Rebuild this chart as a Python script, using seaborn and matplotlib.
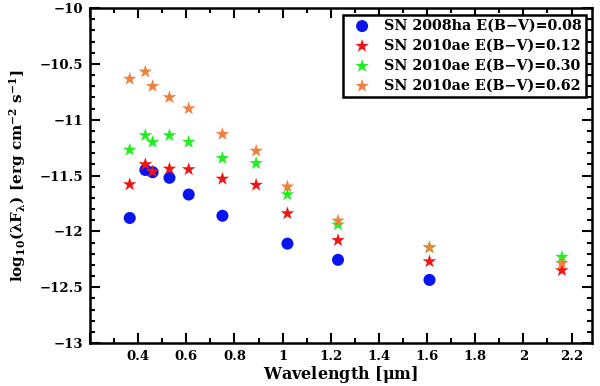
import numpy as np
import pandas as pd
import seaborn as sns
import matplotlib.pyplot as plt
from matplotlib.ticker import MultipleLocator, FuncFormatter

# wavelengths in micron (U B g V R I ... J H K)
wave_08ha = [0.365, 0.43, 0.46, 0.53, 0.61, 0.75, 1.02, 1.23, 1.61]
flux_08ha = [-11.88, -11.45, -11.47, -11.52, -11.67, -11.86, -12.11, -12.255, -12.435]

wave_10ae = [0.365, 0.43, 0.46, 0.53, 0.61, 0.75, 0.89, 1.02, 1.23, 1.61, 2.16]
flux_10ae_012 = [-11.58, -11.40, -11.465, -11.44, -11.445, -11.53, -11.585, -11.84, -12.08, -12.27, -12.35]
flux_10ae_030 = [-11.27, -11.14, -11.20, -11.14, -11.20, -11.345, -11.39, -11.67, -11.94, -12.145, -12.23]
flux_10ae_062 = [-10.635, -10.57, -10.70, -10.80, -10.90, -11.13, -11.28, -11.60, -11.905, -12.145, -12.285]

labels = ["SN 2008ha E(B\u2212V)=0.08", "SN 2010ae E(B\u2212V)=0.12",
          "SN 2010ae E(B\u2212V)=0.30", "SN 2010ae E(B\u2212V)=0.62"]
colors = ["#0a14f0", "#f01414", "#1ef01e", "#f08040"]
markers = ["o", "*", "*", "*"]

frames = [pd.DataFrame({"wave": wave_08ha, "flux": flux_08ha, "series": labels[0]})]
for lab, fl in zip(labels[1:], [flux_10ae_012, flux_10ae_030, flux_10ae_062]):
    frames.append(pd.DataFrame({"wave": wave_10ae, "flux": fl, "series": lab}))
df = pd.concat(frames, ignore_index=True)

sns.set_style("ticks")
plt.rcParams["font.family"] = ["DejaVu Serif"]
plt.rcParams["font.weight"] = "bold"
plt.rcParams["mathtext.fontset"] = "dejavuserif"
plt.rcParams["mathtext.default"] = "bf"
plt.rcParams["text.color"] = "black"
plt.rcParams["axes.labelcolor"] = "black"
plt.rcParams["xtick.color"] = "black"
plt.rcParams["ytick.color"] = "black"
plt.rcParams["axes.edgecolor"] = "black"

fig = plt.figure(figsize=(6, 3.86), dpi=100)
ax = fig.add_axes([0.15, 0.1114, 0.8367, 0.8676])

for lab, col, mk in zip(labels, colors, markers):
    sub = df[df["series"] == lab]
    sns.scatterplot(data=sub, x="wave", y="flux", color=col, marker=mk,
                    s=75 if mk == "o" else 105, edgecolor="none", linewidth=0,
                    label=lab, ax=ax, zorder=3 if mk == "o" else 4)

ax.set_xlim(0.2, 2.285)
ax.set_ylim(-13, -10)
ax.xaxis.set_major_locator(MultipleLocator(0.2))
ax.xaxis.set_minor_locator(MultipleLocator(0.1))
ax.yaxis.set_major_locator(MultipleLocator(0.5))
ax.yaxis.set_minor_locator(MultipleLocator(0.1))
xfmt = FuncFormatter(lambda v, p: "" if abs(v - 0.2) < 1e-6 else "%g" % round(v, 3))
yfmt = FuncFormatter(lambda v, p: ("%g" % round(v, 3)).replace("-", "\u2212"))
ax.xaxis.set_major_formatter(xfmt)
ax.yaxis.set_major_formatter(yfmt)
ax.tick_params(which="both", direction="in", top=True, right=True, width=1.5, labelsize=9.5)
ax.tick_params(which="major", length=7, pad=5)
ax.tick_params(which="minor", length=3.5)
for sp in ax.spines.values():
    sp.set_linewidth(1.8)

ax.set_xlabel("Wavelength [$\\mathbf{\\mu}$m]", fontsize=11.5, fontweight="bold", labelpad=1)
ax.set_ylabel("log$_{10}$($\\lambda$F$_\\lambda$) [erg cm$^{-2}$ s$^{-1}$]",
              fontsize=11, fontweight="bold", labelpad=8)

leg = ax.legend(loc="upper right", fontsize=10.3, frameon=True, fancybox=False,
                handletextpad=0.5, borderpad=0.3, labelspacing=0.42,
                borderaxespad=0.45, markerscale=1.0, framealpha=1)
leg.get_frame().set_edgecolor("black")
leg.get_frame().set_linewidth(1.8)
for t in leg.get_texts():
    t.set_fontweight("bold")

fig.savefig("out.png", dpi=100)
